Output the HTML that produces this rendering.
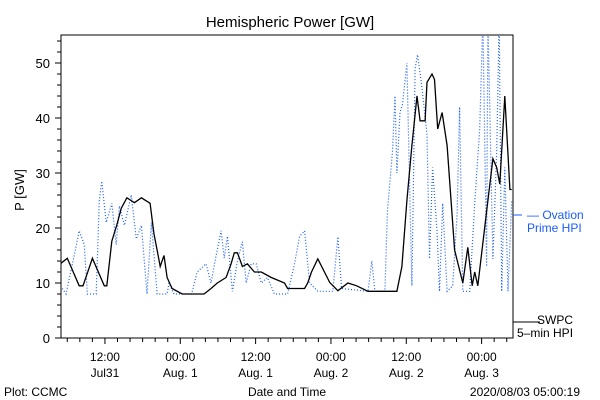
<!DOCTYPE html>
<html><head><meta charset="utf-8"><style>
body{margin:0;background:#fff}
svg{display:block;font-family:"Liberation Sans",sans-serif}
</style></head><body>
<svg id="c" width="600" height="400" viewBox="0 0 600 400">
<text x="290" y="27" font-size="15" text-anchor="middle">Hemispheric Power [GW]</text>
<rect x="61" y="35" width="452" height="303" fill="none" stroke="#000" stroke-width="1"/>
<g id="axes"></g>
<defs><clipPath id="clip"><rect x="61" y="35" width="452" height="303"/></clipPath></defs>
<g clip-path="url(#clip)"><path id="ov" fill="none" stroke="#1a5cff" stroke-width="1.2" stroke-dasharray="1,2"/>
<path id="sw" fill="none" stroke="#000" stroke-width="1.3"/></g>
<text x="24" y="190" font-size="13" text-anchor="middle" transform="rotate(-90 24 190)">P [GW]</text>
<text x="287" y="396" font-size="12" text-anchor="middle">Date and Time</text>
<text x="4" y="396" font-size="12">Plot: CCMC</text>
<text x="580" y="396" font-size="12" text-anchor="end">2020/08/03 05:00:19</text>
<line x1="513" y1="215" x2="522" y2="215" stroke="#1a5cff"/>
<text x="527" y="219" font-size="12" fill="#1a5cff">— Ovation</text>
<text x="527" y="232" font-size="12" fill="#1a5cff">Prime HPI</text>
<line x1="513" y1="322" x2="540" y2="322" stroke="#000"/>
<text x="537" y="324" font-size="12">SWPC</text>
<text x="517" y="337" font-size="12">5–min HPI</text>
</svg>
<script>
const swHours=[0,1,2.9,3.5,5,6.9,7.3,8.1,8.9,9.6,10.5,11.7,12.8,14.2,14.8,15.3,15.8,16.4,16.9,17.7,19.3,22.8,23.9,24.9,26.3,27.1,27.6,28.1,28.9,29.7,30.8,31.9,33.5,35.6,36.1,38.8,39.3,39.9,40.9,42.8,44.1,45.7,47.1,48.9,53.5,54.3,55.1,55.9,56.7,57.2,58,58.3,59.1,59.5,60,60.7,61.5,62.7,64,64.8,65.5,65.9,66.4,67.8,68.8,69.4,69.9,70.7,71.5,71.8];
const swValues=[13.6,14.5,9.5,9.5,14.5,9.5,9.5,17.6,20.6,23.6,25.5,24.6,25.5,24.5,19,16,13,15,11,9,8,8,9,10,11,13.5,15.5,15.5,13,13.5,12,12,11,10,9,9,10,12,14.4,10.1,8.6,10,9.5,8.5,8.5,13,25,35,44,39.5,39.5,46.5,48,47,38,41,35,16,10,16.5,9.5,12,9.5,23,32.6,31,28,44,27,27];
const ovHours=[0.2,0.8,2.1,2.9,3.7,4.2,5.6,6.1,6.5,7.2,8.1,8.8,9.3,10.1,11.2,12,12.8,13.7,14.4,15.3,16.9,17.2,18,20.8,21.7,23.1,23.9,24.7,25.5,26,26.5,27.3,28.1,28.9,29.5,30.3,31.1,31.9,32.9,34,36.1,37.2,38,38.8,39.6,40.9,43.3,44.1,44.7,48.9,49.5,50,51.6,52,52.8,53.2,53.5,54,54.4,55.1,55.9,56.4,56.8,57.5,58.3,58.7,59.2,59.9,60.3,60.8,61.5,62.4,63.1,63.5,64,65.1,65.9,66.7,67.2,67.8,68,68.8,69.4,69.8,70.2,70.7,71.2,71.8];
const ovValues=[9,8,15,19.5,17,8,8,25,28.5,21,24.5,17,24,20.5,26,18,20.5,8,21,8,8,10,8,8,12,13.5,10,15,19.5,14.5,18.5,8.5,14,17.5,10,13.5,13.5,10,11,8,8,13.5,18.5,19.5,10,8.5,8.5,18.4,9,8.5,14,8.5,8.5,23,34,44,30,41,42.5,50,9.5,49,51.5,45.5,37,14.4,31,19.5,8.5,24.5,8.5,9.5,22.5,42,8.5,8.5,24.5,38,58,13,58,14.4,34,58,8.5,31,8.5,25];
const yTicks=[0,10,20,30,40,50];
const xTickHours=[7,19,31,43,55,67];
const xTickTop=["12:00","00:00","12:00","00:00","12:00","00:00"];
const xTickBot=["Jul31","Aug. 1","Aug. 1","Aug. 2","Aug. 2","Aug. 3"];
const X=h=>61+h*452/72, Y=v=>338-v*5.5;
const NS="http://www.w3.org/2000/svg";
const ax=document.getElementById('axes');
function mk(t,a){const e=document.createElementNS(NS,t);for(const k in a)e.setAttribute(k,a[k]);ax.appendChild(e);return e;}
for(let v=0;v<=54;v+=2){const big=v%10===0;const l=mk('line',{x1:61-(big?6:4),x2:61,y1:Y(v),y2:Y(v),stroke:'#000'});

}
yTicks.forEach(v=>{const t=mk('text',{x:50,y:Y(v)+5,'font-size':13,'text-anchor':'end'});t.textContent=v;

});
for(let h=1;h<72;h+=2){const big=(h-7)%12===0;const l=mk('line',{x1:X(h),x2:X(h),y1:338,y2:338+(big?6:4),stroke:'#000'});

}
xTickHours.forEach((h,i)=>{const t=mk('text',{x:X(h),y:361,'font-size':12,'text-anchor':'middle'});t.textContent=xTickTop[i];


const b=mk('text',{x:X(h),y:377,'font-size':12,'text-anchor':'middle'});b.textContent=xTickBot[i];

});
const path=(hs,vs)=>hs.map((h,i)=>(i?'L':'M')+X(h).toFixed(1)+','+Y(vs[i]).toFixed(1)).join('');
document.getElementById('sw').setAttribute('d',path(swHours,swValues));
document.getElementById('ov').setAttribute('d',path(ovHours,ovValues));
</script>
</body></html>
